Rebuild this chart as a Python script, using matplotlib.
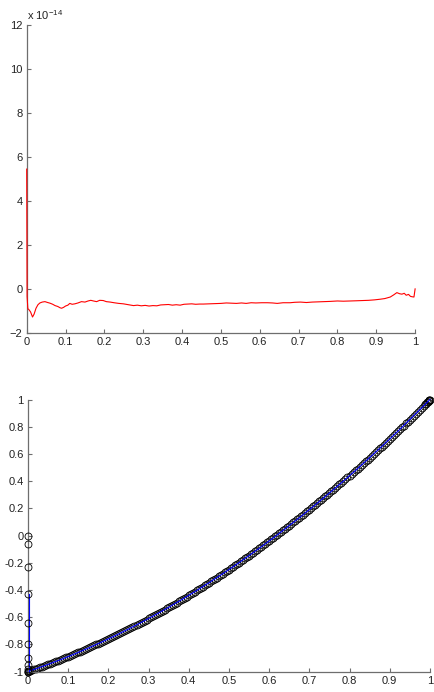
import matplotlib
matplotlib.use("Agg")
import matplotlib.pyplot as plt

plt.rcParams['font.family'] = ['Liberation Sans', 'DejaVu Sans']
plt.rcParams['font.size'] = 8

# ---- top panel: error, in units of 1e-14 ----
err_x = [0.0, 0.001, 0.003, 0.006, 0.010, 0.015, 0.019, 0.024, 0.029, 0.034,
         0.040, 0.047, 0.054, 0.060, 0.067, 0.073, 0.080, 0.086, 0.090, 0.095,
         0.100, 0.106, 0.111, 0.117, 0.124, 0.132, 0.141, 0.150, 0.158, 0.165,
         0.172, 0.180, 0.188, 0.197, 0.205, 0.215, 0.225, 0.237, 0.249, 0.262,
         0.275, 0.285, 0.295, 0.305, 0.315, 0.325, 0.335, 0.345, 0.355, 0.365,
         0.375, 0.385, 0.395, 0.405, 0.415, 0.425, 0.435, 0.445, 0.455, 0.470,
         0.485, 0.500, 0.514, 0.527, 0.540, 0.553, 0.565, 0.578, 0.590, 0.605,
         0.620, 0.633, 0.645, 0.660, 0.678, 0.690, 0.705, 0.720, 0.735, 0.750,
         0.765, 0.780, 0.800, 0.815, 0.833, 0.850, 0.865, 0.880, 0.895, 0.910,
         0.922, 0.936, 0.945, 0.953, 0.960, 0.966, 0.972, 0.977, 0.983, 0.988,
         0.993, 0.997, 1.000]
err_y = [5.45, -0.35, -0.90, -0.95, -1.05, -1.28, -1.15, -0.88, -0.72, -0.64,
         -0.60, -0.58, -0.62, -0.65, -0.70, -0.76, -0.80, -0.86, -0.88, -0.84,
         -0.78, -0.74, -0.66, -0.70, -0.68, -0.64, -0.58, -0.60, -0.55, -0.52,
         -0.55, -0.58, -0.52, -0.53, -0.58, -0.60, -0.63, -0.66, -0.68, -0.72,
         -0.76, -0.74, -0.77, -0.75, -0.78, -0.76, -0.77, -0.73, -0.72, -0.71,
         -0.74, -0.72, -0.74, -0.70, -0.69, -0.68, -0.70, -0.69, -0.69, -0.68,
         -0.67, -0.66, -0.64, -0.65, -0.66, -0.64, -0.66, -0.63, -0.64, -0.63,
         -0.63, -0.64, -0.66, -0.63, -0.63, -0.61, -0.60, -0.62, -0.60, -0.59,
         -0.58, -0.57, -0.55, -0.56, -0.55, -0.54, -0.53, -0.52, -0.50, -0.47,
         -0.44, -0.37, -0.27, -0.17, -0.22, -0.24, -0.20, -0.29, -0.25, -0.34,
         -0.36, -0.37, 0.0]

# ---- bottom panel: points on the curve ----
col_y = [0.0, -0.06, -0.23, -0.43, -0.64, -0.80, -0.90, -0.95, -0.98, -1.0]

curve_x = [0.0, 0.003, 0.006, 0.01, 0.015, 0.02, 0.03, 0.04, 0.05, 0.06,
           0.07, 0.08, 0.09, 0.10, 0.11, 0.12, 0.13, 0.14, 0.15, 0.16,
           0.17, 0.18, 0.19, 0.20, 0.21, 0.22, 0.23, 0.24, 0.25, 0.26,
           0.27, 0.28, 0.29, 0.30, 0.31, 0.32, 0.33, 0.34, 0.35, 0.36,
           0.37, 0.38, 0.39, 0.40, 0.41, 0.42, 0.43, 0.44, 0.45, 0.46,
           0.47, 0.48, 0.49, 0.50, 0.51, 0.52, 0.53, 0.54, 0.55, 0.56,
           0.57, 0.58, 0.59, 0.60, 0.61, 0.62, 0.63, 0.64, 0.65, 0.66,
           0.67, 0.68, 0.69, 0.70, 0.71, 0.72, 0.73, 0.74, 0.75, 0.76,
           0.77, 0.78, 0.79, 0.80, 0.81, 0.82, 0.83, 0.84, 0.85, 0.86,
           0.87, 0.88, 0.89, 0.90, 0.91, 0.92, 0.93, 0.94, 0.95, 0.96,
           0.97, 0.975, 0.98, 0.985, 0.99, 0.995, 0.998, 1.0]
curve_y = [-1.000, -0.997, -0.994, -0.990, -0.985, -0.980, -0.969, -0.958, -0.948, -0.936,
           -0.925, -0.914, -0.902, -0.890, -0.878, -0.866, -0.853, -0.840, -0.828, -0.814,
           -0.801, -0.788, -0.774, -0.760, -0.746, -0.732, -0.717, -0.702, -0.688, -0.672,
           -0.657, -0.642, -0.626, -0.610, -0.594, -0.578, -0.561, -0.544, -0.528, -0.510,
           -0.493, -0.476, -0.458, -0.440, -0.422, -0.404, -0.385, -0.366, -0.348, -0.328,
           -0.309, -0.290, -0.270, -0.250, -0.230, -0.210, -0.189, -0.168, -0.148, -0.126,
           -0.105, -0.084, -0.062, -0.040, -0.018, 0.004, 0.027, 0.050, 0.073, 0.096,
           0.119, 0.142, 0.166, 0.190, 0.214, 0.238, 0.263, 0.288, 0.313, 0.338,
           0.363, 0.388, 0.414, 0.440, 0.466, 0.492, 0.519, 0.546, 0.573, 0.600,
           0.627, 0.654, 0.682, 0.710, 0.738, 0.766, 0.795, 0.824, 0.853, 0.882,
           0.911, 0.926, 0.940, 0.955, 0.970, 0.985, 0.994, 1.000]

# in-between samples (markers only, same curve)
mid_x = [0.001, 0.008, 0.025, 0.035, 0.045, 0.055, 0.065, 0.075, 0.085, 0.095,
         0.105, 0.115, 0.125, 0.135, 0.145, 0.155, 0.165, 0.175, 0.185, 0.195,
         0.205, 0.215, 0.225, 0.235, 0.245, 0.255, 0.265, 0.275, 0.285, 0.295,
         0.305, 0.315, 0.325, 0.335, 0.345, 0.355, 0.365, 0.375, 0.385, 0.395,
         0.405, 0.415, 0.425, 0.435, 0.445, 0.455, 0.465, 0.475, 0.485, 0.495,
         0.505, 0.515, 0.525, 0.535, 0.545, 0.555, 0.565, 0.575, 0.585, 0.595,
         0.605, 0.615, 0.625, 0.635, 0.645, 0.655, 0.665, 0.675, 0.685, 0.695,
         0.705, 0.715, 0.725, 0.735, 0.745, 0.755, 0.765, 0.775, 0.785, 0.795,
         0.805, 0.815, 0.825, 0.835, 0.845, 0.855, 0.865, 0.875, 0.885, 0.895,
         0.905, 0.915, 0.925, 0.935, 0.945, 0.955, 0.965, 0.988, 0.993, 0.997,
         0.999]
mid_y = [-0.999, -0.992, -0.974, -0.964, -0.953, -0.942, -0.931, -0.919, -0.908, -0.896,
         -0.884, -0.872, -0.859, -0.847, -0.834, -0.821, -0.808, -0.794, -0.781, -0.767,
         -0.753, -0.739, -0.724, -0.710, -0.695, -0.680, -0.665, -0.649, -0.634, -0.618,
         -0.602, -0.586, -0.569, -0.553, -0.536, -0.519, -0.502, -0.484, -0.467, -0.449,
         -0.431, -0.413, -0.394, -0.376, -0.357, -0.338, -0.319, -0.299, -0.280, -0.260,
         -0.240, -0.220, -0.199, -0.179, -0.158, -0.137, -0.116, -0.094, -0.073, -0.051,
         -0.029, -0.007, 0.016, 0.038, 0.061, 0.084, 0.107, 0.131, 0.154, 0.178,
         0.202, 0.226, 0.251, 0.275, 0.300, 0.325, 0.350, 0.376, 0.401, 0.427,
         0.453, 0.479, 0.506, 0.532, 0.559, 0.586, 0.613, 0.641, 0.668, 0.696,
         0.724, 0.752, 0.781, 0.809, 0.838, 0.867, 0.896, 0.964, 0.979, 0.991,
         0.997]

top_yticks = [-2, 0, 2, 4, 6, 8, 10, 12]
x_ticks = [0, 0.1, 0.2, 0.3, 0.4, 0.5, 0.6, 0.7, 0.8, 0.9, 1]
x_labels = ['0', '0.1', '0.2', '0.3', '0.4', '0.5', '0.6', '0.7', '0.8', '0.9', '1']
bot_yticks = [-1, -0.8, -0.6, -0.4, -0.2, 0, 0.2, 0.4, 0.6, 0.8, 1]
bot_ylabels = ['-1', '-0.8', '-0.6', '-0.4', '-0.2', '0', '0.2', '0.4', '0.6', '0.8', '1']

AXC = '#6e6e6e'
MK = dict(marker='o', ms=5, mfc='none', mec='black', mew=0.6)


def matlab_style(ax):
    for s in ['top', 'right']:
        ax.spines[s].set_visible(False)
    for s in ['left', 'bottom']:
        ax.spines[s].set_color(AXC)
        ax.spines[s].set_linewidth(0.9)
        ax.spines[s].set_zorder(3)
    ax.tick_params(direction='in', length=3, width=0.8, color=AXC,
                   labelcolor='#222222', labelsize=8, pad=3)


fig = plt.figure(figsize=(4.34, 6.92), dpi=100)

ax1 = fig.add_axes([0.0615, 0.519, 0.895, 0.4447])
ax1.plot(err_x, err_y, color='#ff0000', lw=0.8, zorder=4, clip_on=False)
ax1.set_xlim(0, 1)
ax1.set_ylim(-2, 12)
ax1.set_xticks(x_ticks)
ax1.set_xticklabels(x_labels)
ax1.set_yticks(top_yticks)
matlab_style(ax1)
fig.text(27 / 434, 1 - 20 / 692, r'x 10$^{\mathregular{-14}}$', fontsize=8,
         color='#222222')

ax2 = fig.add_axes([0.0645, 0.0296, 0.926, 0.393])
# markers first, then the blue line on top so it shows through the band
ax2.plot(mid_x, mid_y, ls='none', zorder=2, clip_on=False, **MK)
ax2.plot(curve_x, curve_y, ls='none', zorder=2, clip_on=False, **MK)
ax2.plot(curve_x, curve_y, color='#0000ff', lw=0.8, zorder=2.5, clip_on=False)
ax2.plot([0.002] * 7, col_y[3:], color='#0000ff', lw=0.8, zorder=4, clip_on=False)
ax2.plot([0] * len(col_y), col_y, ls='none', zorder=5, clip_on=False, **MK)
ax2.set_xlim(0, 1)
ax2.set_ylim(-1, 1)
ax2.set_xticks(x_ticks)
ax2.set_xticklabels(x_labels)
ax2.set_yticks(bot_yticks)
ax2.set_yticklabels(bot_ylabels)
matlab_style(ax2)

fig.savefig('out.png', dpi=100)
